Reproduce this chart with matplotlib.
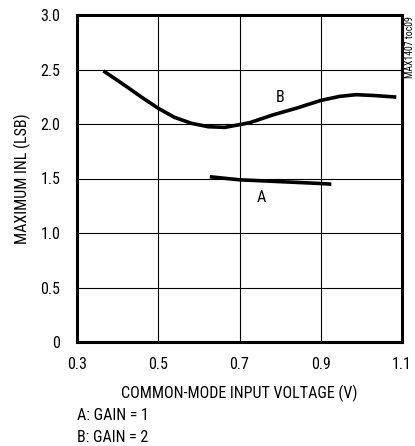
import matplotlib
matplotlib.use("Agg")
import matplotlib.pyplot as plt

plt.rcParams['font.family'] = ['Roboto Condensed', 'Liberation Sans', 'DejaVu Sans']

# Data
b_x = [0.365, 0.393, 0.426, 0.459, 0.50, 0.54, 0.582, 0.623, 0.664, 0.70,
       0.725, 0.782, 0.84, 0.90, 0.946, 0.987, 1.028, 1.086]
b_y = [2.487, 2.417, 2.333, 2.246, 2.144, 2.061, 2.006, 1.975, 1.969, 1.994,
       2.012, 2.083, 2.145, 2.216, 2.253, 2.269, 2.262, 2.247]
a_x = [0.627, 0.70, 0.807, 0.90, 0.926]
a_y = [1.516, 1.488, 1.47, 1.454, 1.448]
x_ticks = [0.3, 0.5, 0.7, 0.9, 1.1]
x_tick_labels = ["0.3", "0.5", "0.7", "0.9", "1.1"]
y_ticks = [0, 0.5, 1.0, 1.5, 2.0, 2.5, 3.0]
y_tick_labels = ["0", "0.5", "1.0", "1.5", "2.0", "2.5", "3.0"]

fig = plt.figure(figsize=(4.15, 4.46), dpi=100)
W, H = 415, 446
ax = fig.add_axes([77 / W, 1 - 342 / H, (402 - 77) / W, (342 - 15) / H])

ax.plot(b_x, b_y, color='black', lw=2.6, solid_capstyle='butt', solid_joinstyle='round')
ax.plot(a_x, a_y, color='black', lw=2.6, solid_capstyle='butt', solid_joinstyle='round')
ax.text(0.80, 2.245, "B", fontsize=11.5, ha='center', va='center')
ax.text(0.754, 1.33, "A", fontsize=11.5, ha='center', va='center')

ax.set_xlim(0.3, 1.1)
ax.set_ylim(0, 3.0)
ax.set_xticks(x_ticks)
ax.set_xticklabels(x_tick_labels, fontsize=11.5)
ax.set_yticks(y_ticks)
ax.set_yticklabels(y_tick_labels, fontsize=11.5)
ax.tick_params(axis='x', length=0, pad=11)
ax.tick_params(axis='y', length=0, pad=12)
ax.grid(True, color='black', lw=0.8)
for s in ax.spines.values():
    s.set_linewidth(2.2)

ax.set_xlabel("COMMON-MODE INPUT VOLTAGE (V)", fontsize=11.5, labelpad=9)
ax.set_ylabel("MAXIMUM INL (LSB)", fontsize=11.5, labelpad=7)

fig.text(77 / W, 1 - 415 / H, "A: GAIN = 1", fontsize=11.5, ha='left', va='center')
fig.text(77 / W, 1 - 437 / H, "B: GAIN = 2", fontsize=11.5, ha='left', va='center')
fig.text(410 / W, 1 - 16 / H, "MAX1407 toc09", fontsize=7, rotation=90, ha='center', va='top')

fig.savefig("out.png", dpi=100)
